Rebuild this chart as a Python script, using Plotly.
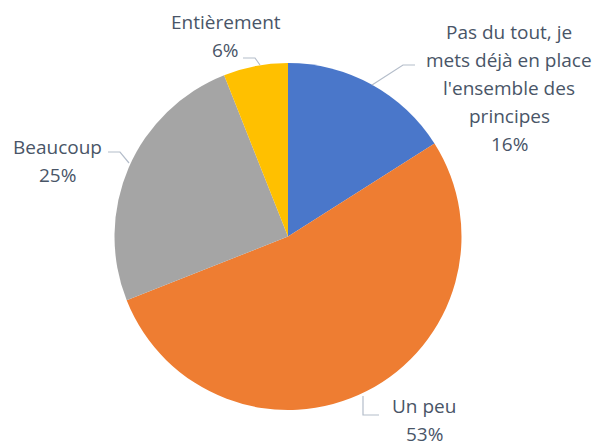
import plotly.graph_objects as go

# the page adds an 8px body margin, so the figure is drawn 8px in from the corner
OFF = 8
W, H = 603 - OFF, 448 - OFF

categories = ["Pas du tout, je mets déjà en place l'ensemble des principes",
              "Un peu", "Beaucoup", "Entièrement"]
values = [16, 53, 25, 6]
label_lines = [["Pas du tout, je", "mets déjà en place", "l'ensemble des", "principes"],
               ["Un peu"], ["Beaucoup"], ["Entièrement"]]
colors = ["#4A77CA", "#EE7D32", "#A5A5A5", "#FFC000"]

# label placement (window px, centre of first line) and leader lines (window px)
label_pos = [(509, 32), (424, 406), (57, 147), (226, 22)]
leaders = [[(372, 85), (403, 65), (415, 65)],
           [(363, 396), (363, 415), (379, 415)],
           [(108, 152), (120, 152), (129, 163)],
           [(243, 58), (255, 58), (260, 65)]]

LINE_H = 28
TXT = "#495567"
FONT = "Open Sans"

cx, cy, r = 288, 236.5, 173.5


def px(x, y):
    return (x - OFF) / W, 1 - (y - OFF) / H


x0, y1 = px(cx - r, cy - r)
x1, y0 = px(cx + r, cy + r)

fig = go.Figure(go.Pie(
    labels=categories, values=values, sort=False, direction="clockwise",
    rotation=0, textinfo="none", hoverinfo="label+percent",
    marker=dict(colors=colors, line=dict(color="white", width=0)),
    domain=dict(x=[x0, x1], y=[y0, y1]),
    showlegend=False,
))

total = sum(values)

annotations = []
for lines, v, (lx, ly) in zip(label_lines, values, label_pos):
    pct = f"{round(100 * v / total)}%"
    for i, t in enumerate(lines + [pct]):
        x, y = px(lx, ly + i * LINE_H)
        annotations.append(dict(x=x, y=y, xref="paper", yref="paper", text=t,
                                showarrow=False, xanchor="center", yanchor="middle",
                                borderpad=0,
                                font=dict(family=FONT, size=19, color=TXT)))

shapes = []
for pts in leaders:
    path = "M " + " L ".join(f"{px(x, y)[0]},{px(x, y)[1]}" for x, y in pts)
    shapes.append(dict(type="path", path=path, xref="paper", yref="paper",
                       line=dict(color="#B4BDCA", width=1.2)))

fig.update_layout(
    width=W, height=H, margin=dict(l=0, r=0, t=0, b=0),
    paper_bgcolor="white", plot_bgcolor="white",
    annotations=annotations, shapes=shapes,
)

fig.write_html("out.html")
